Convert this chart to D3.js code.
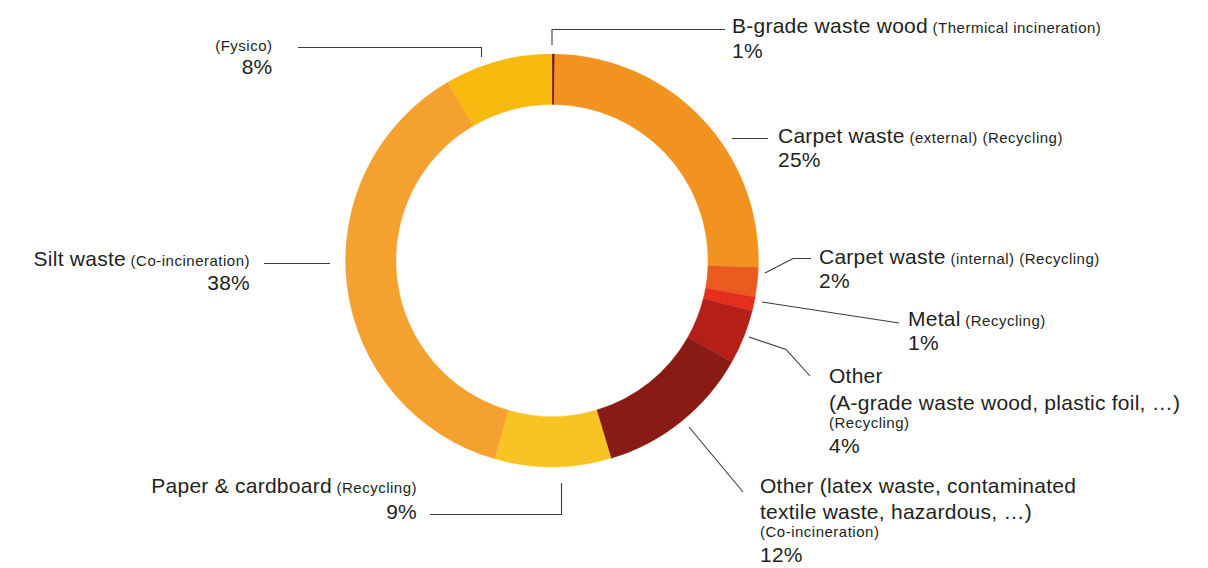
<!DOCTYPE html>
<html><head><meta charset="utf-8">
<script src="https://cdn.jsdelivr.net/npm/d3@7"></script>
<style>
body{margin:0;background:#fff}
text{font-family:"Liberation Sans",Arial,sans-serif;fill:#231f20}
</style>
</head><body><svg id="c" width="1208" height="568"></svg>
<script>
// ---- data ----
const categories = ["B-grade waste wood","Carpet waste (external)","Carpet waste (internal)","Metal",
  "Other (A-grade waste wood, plastic foil, …)","Other (latex waste, contaminated textile waste, hazardous, …)",
  "Paper & cardboard","Silt waste","Fysico"];
const shares = [0.22, 25.3, 2.3, 1.1, 4.25, 12.2, 9.1, 37.1, 8.4];
const percentLabels = ["1%","25%","2%","1%","4%","12%","9%","38%","8%"];
const colors = ["#7b1a10","#f3931f","#e95b1f","#e42f1d","#b41f18","#891a14","#f9c423","#f5a12f","#f7b90e"];
// label text lines: [text, size] tokens; L = large, S = small
const labelLines = [
  [[["B-grade waste wood","L"],[" (Thermical incineration)","S"]]],
  [[["Carpet waste","L"],[" (external) (Recycling)","S"]]],
  [[["Carpet waste","L"],[" (internal) (Recycling)","S"]]],
  [[["Metal","L"],[" (Recycling)","S"]]],
  [[["Other","L"]],[["(A-grade waste wood, plastic foil, …)","L"]],[["(Recycling)","S"]]],
  [[["Other (latex waste, contaminated","L"]],[["textile waste, hazardous, …)","L"]],[["(Co-incineration)","S"]]],
  [[["Paper & cardboard","L"],[" (Recycling)","S"]]],
  [[["Silt waste","L"],[" (Co-incineration)","S"]]],
  [[["(Fysico)","S"]]]
];

// ---- layout ----
const cx = 552, cy = 260.5, R = 206.5, r0 = 156;
const fontL = 21, fontS = 15;
const spacingL = 0.25, spacingS = 0.5;
const labelLayout = [
  {x:732, anchor:"start", ys:[33,57.5], leader:[[552,45],[552,29.5],[725,29.5]]},
  {x:778, anchor:"start", ys:[142.7,166.7], leader:[[732,138.5],[768,138.5]]},
  {x:819, anchor:"start", ys:[264,288], leader:[[765,273],[793,258.5],[811,258.5]]},
  {x:908, anchor:"start", ys:[325.7,350], leader:[[762,302],[899,323]]},
  {x:829, anchor:"start", ys:[382.7,409.5,427.7,452.7], leader:[[749,337],[786,349.5],[810,376]]},
  {x:760, anchor:"start", ys:[493,519,536.7,561.7], leader:[[689,427],[743,492]]},
  {x:417, anchor:"end", ys:[493,519], leader:[[561.5,483],[561.5,514.5],[430,514.5]]},
  {x:250, anchor:"end", ys:[266,290], leader:[[330,263.5],[264,263.5]]},
  {x:272.5, anchor:"end", ys:[51,74], leader:[[481.5,57],[481.5,47.5],[298,47.5]]}
];

const svg = d3.select("#c");
const pie = d3.pie().sort(null).value(d => d.v);
const arcs = pie(shares.map((v,i)=>({v, i})));
const arc = d3.arc().innerRadius(r0).outerRadius(R);

const g = svg.append("g").attr("transform", `translate(${cx},${cy})`);
g.selectAll("path").data(arcs).join("path")
  .attr("d", arc)
  .attr("fill", d => colors[d.data.i])
  .attr("stroke", d => colors[d.data.i])
  .attr("stroke-width", 0.3);

// leaders
svg.append("g").selectAll("path").data(labelLayout).join("path")
  .attr("d", d => d3.line()(d.leader))
  .attr("fill","none").attr("stroke","#3c3c3c").attr("stroke-width",1.1);

// labels
labelLayout.forEach((lay, i) => {
  const lines = labelLines[i].concat([[[percentLabels[i],"L"]]]);
  lines.forEach((tokens, li) => {
    const t = svg.append("text")
      .attr("x", lay.x).attr("y", lay.ys[li])
      .attr("text-anchor", lay.anchor);
    tokens.forEach(([txt, sz]) => {
      t.append("tspan").attr("font-size", sz === "L" ? fontL : fontS)
       .attr("letter-spacing", sz === "L" ? spacingL : spacingS)
       .attr("xml:space","preserve").text(txt);
    });
  });
});
</script>
</body></html>
